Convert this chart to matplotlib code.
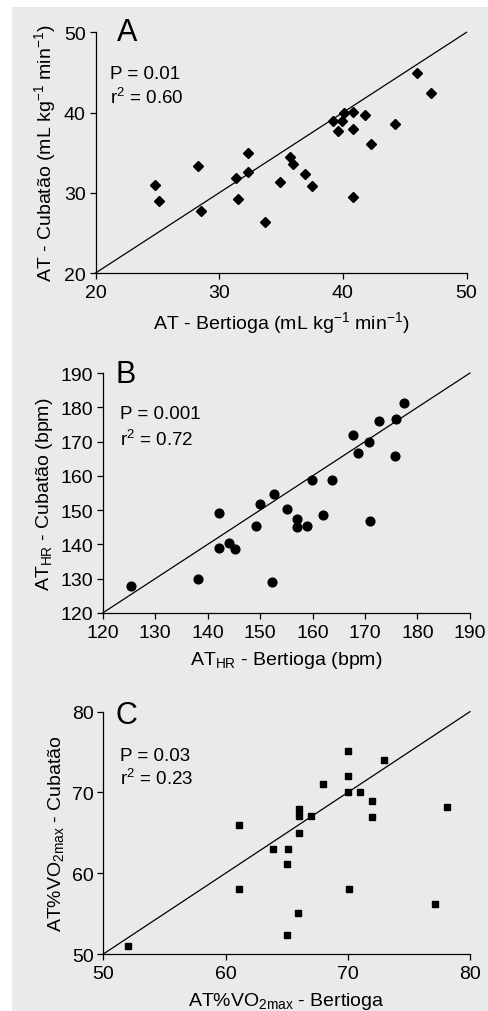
import matplotlib
matplotlib.use('Agg')
import matplotlib.pyplot as plt
from matplotlib.patches import Rectangle

plt.rcParams['font.family'] = ['Liberation Sans', 'DejaVu Sans']
plt.rcParams['mathtext.fontset'] = 'custom'
plt.rcParams['mathtext.rm'] = 'Liberation Sans'
plt.rcParams['mathtext.it'] = 'Liberation Sans:italic'
plt.rcParams['mathtext.default'] = 'regular'

# panel A - anaerobic threshold (mL kg-1 min-1)
a_bertioga = [24.8, 25.1, 28.3, 28.5, 31.4, 31.5, 32.3, 32.3, 33.7, 34.9, 35.7, 36.0, 36.9,
              37.5, 39.2, 39.6, 39.9, 40.1, 40.8, 40.8, 40.8, 41.8, 42.3, 44.2, 46.0, 47.1]
a_cubatao = [31.0, 29.0, 33.4, 27.7, 31.8, 29.2, 34.9, 32.6, 26.3, 31.4, 34.5, 33.6, 32.3,
             30.8, 38.9, 37.7, 39.0, 39.9, 40.1, 37.9, 29.5, 39.7, 36.1, 38.6, 44.9, 42.4]

# panel B - AT heart rate (bpm)
b_bertioga = [125.4, 138.2, 142.2, 142.2, 144.1, 145.3, 149.2, 149.9, 152.2, 152.7, 155.1, 157.0, 157.0,
              158.9, 159.9, 161.9, 163.8, 167.7, 168.6, 170.8, 170.9, 172.7, 175.8, 175.9, 177.5]
b_cubatao = [127.8, 130.0, 149.1, 139.1, 140.4, 138.8, 145.3, 151.8, 129.1, 154.8, 150.4, 147.3, 145.0,
             145.5, 158.7, 148.7, 158.7, 171.8, 166.7, 169.8, 146.9, 176.1, 165.8, 176.5, 181.4]

# panel C - AT %VO2max
c_bertioga = [52.0, 61.1, 61.1, 63.9, 65.1, 65.0, 65.0, 66.0, 66.0, 66.0, 65.9, 67.0,
              68.0, 70.0, 70.0, 70.0, 70.1, 71.0, 72.0, 72.0, 73.0, 77.1, 78.1]
c_cubatao = [51.0, 66.0, 58.0, 63.0, 63.0, 61.2, 52.3, 68.0, 67.1, 65.0, 55.1, 67.1,
             71.0, 75.1, 72.0, 70.0, 58.1, 70.1, 69.0, 67.0, 74.0, 56.2, 68.2]

panels = [
    dict(x=a_bertioga, y=a_cubatao, lim=(20, 50), ticks=[20, 30, 40, 50], letter='A',
         stats=('P = 0.01', 'r$^2$ = 0.60'), marker='D', ms=5.0,
         xlabel='AT - Bertioga (mL kg$^{-1}$ min$^{-1}$)',
         ylabel='AT - Cubatão (mL kg$^{-1}$ min$^{-1}$)',
         rect=[0.1957, 0.7292, 0.7603, 0.2379],
         letter_pos=(0.057, 1.0), stat_x=0.039, stat_y=(0.83, 0.73)),
    dict(x=b_bertioga, y=b_cubatao, lim=(120, 190), ticks=list(range(120, 191, 10)), letter='B',
         stats=('P = 0.001', 'r$^2$ = 0.72'), marker='o', ms=6.3,
         xlabel='AT$_{HR}$ - Bertioga (bpm)',
         ylabel='AT$_{HR}$ - Cubatão (bpm)',
         rect=[0.2104, 0.3933, 0.7526, 0.2371],
         letter_pos=(0.034, 0.995), stat_x=0.047, stat_y=(0.833, 0.725)),
    dict(x=c_bertioga, y=c_cubatao, lim=(50, 80), ticks=[50, 60, 70, 80], letter='C',
         stats=('P = 0.03', 'r$^2$ = 0.23'), marker='s', ms=4.8,
         xlabel='AT%VO$_{2max}$ - Bertioga',
         ylabel='AT%VO$_{2max}$ - Cubatão',
         rect=[0.2117, 0.0563, 0.7514, 0.2395],
         letter_pos=(0.032, 0.985), stat_x=0.045, stat_y=(0.819, 0.726)),
]

fig = plt.figure(figsize=(4.88, 10.12), dpi=100)
fig.patch.set_facecolor('white')
bg = '#e9eaec'
fig.patches.append(Rectangle((12 / 488, 0), 1, 1 - 8 / 1012, transform=fig.transFigure,
                             facecolor=bg, edgecolor='none', zorder=-10))

for p in panels:
    ax = fig.add_axes(p['rect'])
    ax.set_facecolor('none')
    lo, hi = p['lim']
    ax.plot([lo, hi], [lo, hi], color='black', lw=0.9, clip_on=False)
    ax.plot(p['x'], p['y'], linestyle='none', marker=p['marker'], ms=p['ms'],
            color='black', clip_on=False)
    ax.set_xlim(lo, hi)
    ax.set_ylim(lo, hi)
    ax.set_xticks(p['ticks'])
    ax.set_yticks(p['ticks'])
    for s in ['top', 'right']:
        ax.spines[s].set_visible(False)
    for s in ['left', 'bottom']:
        ax.spines[s].set_linewidth(0.9)
    ax.tick_params(direction='out', length=4, width=0.9, labelsize=14, pad=3)
    ax.tick_params(axis='x', pad=4)
    ax.set_xlabel(p['xlabel'], fontsize=14, labelpad=6)
    ax.set_ylabel(p['ylabel'], fontsize=14, labelpad=4)
    ax.text(p['letter_pos'][0], p['letter_pos'][1], p['letter'], transform=ax.transAxes,
            fontsize=22, va='center', ha='left')
    ax.text(p['stat_x'], p['stat_y'][0], p['stats'][0], transform=ax.transAxes,
            fontsize=13.5, va='center')
    ax.text(p['stat_x'], p['stat_y'][1], p['stats'][1], transform=ax.transAxes,
            fontsize=13.5, va='center')

fig.savefig('out.png', dpi=100)
